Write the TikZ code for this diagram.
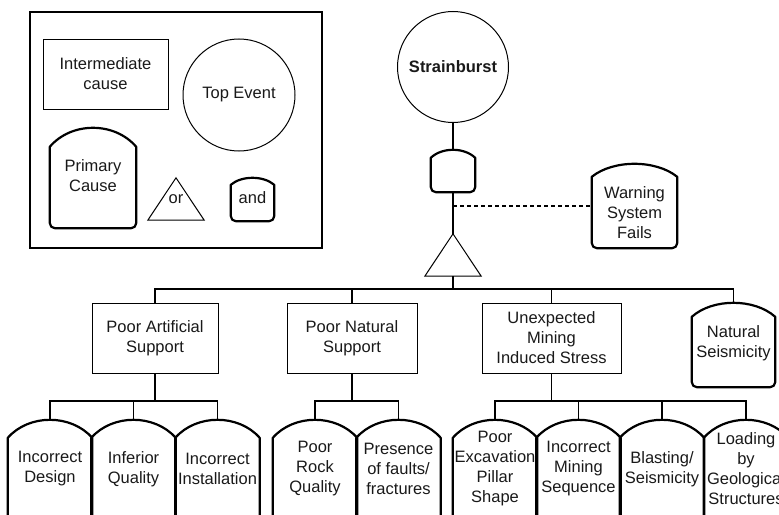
\documentclass[tikz,border=0pt]{standalone}
\usepackage{fontspec}
\setmainfont{Liberation Sans}
\usetikzlibrary{calc}
\begin{document}
\begin{tikzpicture}[x=1pt,y=-1pt,
  every node/.style={font=\fontsize{16.5}{20}\selectfont, align=center,
    inner sep=0pt, text=black!90},
  boxnode/.style n args={2}{draw, line width=1pt, minimum width=#1, minimum height=#2},
  tombnode/.style n args={2}{minimum width=#1, minimum height=#2},
  circ/.style={circle, draw, line width=1pt, minimum size=#1},
  tomb/.style={draw, line width=2.2pt, line join=round},
  thinline/.style={line width=1pt, line join=miter},
  link/.style={line width=1.4pt}]
\useasboundingbox (0,0) rectangle (779,514);

% ---------- key ----------
\node[boxnode={292pt}{236pt}, line width=1.3pt] (legend) at (176,130) {};
\node[boxnode={125pt}{70pt}] (lint) at (105.5,74) {Intermediate\\cause};
\node[circ=112pt] (ltop) at (239,95) {Top Event};
\node[tombnode={86pt}{96pt}] (lprim) at (93,176) {Primary\\Cause};
\node[tombnode={56pt}{42pt}] (lor) at (176,199) {or};
\node[tombnode={43pt}{40pt}] (land) at (252.5,198) {and};

% ---------- top of the tree ----------
\node[circ=111pt, font=\fontsize{16.5}{20}\selectfont\bfseries] (sb) at (453,67) {Strainburst};
\node[tombnode={44pt}{42pt}] (gate) at (453,171) {};
\node[tombnode={56pt}{42pt}] (tri) at (453,255) {};
\node[tombnode={85pt}{98pt}] (warn) at (634.5,213) {Warning\\System\\Fails};
\coordinate (j) at (453,206);
\coordinate (lv2) at (0,289);
\coordinate (lv3) at (0,401);

% ---------- second level ----------
\node[boxnode={126pt}{70pt}] (pas) at (155,338) {Poor Artificial\\Support};
\node[boxnode={130pt}{70pt}] (pns) at (352,338) {Poor Natural\\Support};
\node[boxnode={139pt}{70pt}] (umis) at (551.5,338) {Unexpected\\Mining\\Induced Stress};
\node[tombnode={83pt}{80pt}] (ns) at (733.5,343) {Natural\\Seismicity};

% ---------- basic causes ----------
\foreach \nd/\xc/\tx in {c11/50/{Incorrect\\Design}, c12/133.5/{Inferior\\Quality},
    c13/217.5/{Incorrect\\Installation}, c21/315/{Poor\\Rock\\Quality},
    c22/398.5/{Presence\\of faults/\\fractures}, c31/495/{Poor\\Excavation\\Pillar\\Shape},
    c32/578.5/{Incorrect\\Mining\\Sequence}, c33/662/{Blasting/\\Seismicity},
    c34/746/{Loading\\by\\Geological\\Structures}}
  \node[tombnode={84pt}{98pt}] (\nd) at (\xc,469) {\tx};

% ---------- primary-cause outlines: arched top, rounded foot ----------
\foreach \nd/\sg/\bo in {lprim/19/4, land/7/3, gate/8/0, warn/13/-14, ns/14/4,
    c11/18/30, c12/18/30, c13/18/30, c21/18/30, c22/18/30,
    c31/18/30, c32/18/30, c33/18/30, c34/18/30}
  \draw[tomb] let \p1=(\nd.south west), \p2=(\nd.north east) in
    ({\x1},{\y2-\sg*1pt})
    .. controls ({\x1+0.25*(\x2-\x1)},{\y2+\sg/3*1pt})
            and ({\x2-0.25*(\x2-\x1)},{\y2+\sg/3*1pt}) ..
    ({\x2},{\y2-\sg*1pt})
    -- ({\x2},{\y1-\bo*1pt+5pt}) arc[start angle=0, end angle=-90, radius=5pt]
    -- ({\x1+5pt},{\y1-\bo*1pt}) arc[start angle=270, end angle=180, radius=5pt]
    -- cycle;

% ---------- or gates ----------
\draw[thinline] (lor.north) -- (lor.south east) -- (lor.south west) -- cycle;
\draw[thinline] (tri.north) -- (tri.south east) -- (tri.south west) -- cycle;

% ---------- connectors ----------
\draw[link] (sb.south) -- (gate.north);
\draw[link] (gate.south) -- (tri.north);
\draw[link, dashed, dash pattern=on 4pt off 3pt, line width=1.2pt] (j) -- (j -| warn.west);
\draw[link] (tri.south) -- (tri.south |- lv2);
\draw[link] (pas.north) |- (ns.north |- lv2) -- (ns.north);
\draw[link] (pns.north) -- (pns.north |- lv2);
\draw[link] (umis.north) -- (umis.north |- lv2);

\draw[link] (pas.south) -- (pas.south |- lv3);
\draw[link] (c11.north) |- (c13.north |- lv3) -- (c13.north);
\draw[link] (c12.north) -- (c12.north |- lv3);

\draw[link] (pns.south) -- (pns.south |- lv3);
\draw[link] (c21.north) |- (c22.north |- lv3) -- (c22.north);

\draw[link] (umis.south) -- (umis.south |- lv3);
\draw[link] (c31.north) |- (c34.north |- lv3) -- (c34.north);
\draw[link] (c32.north) -- (c32.north |- lv3);
\draw[link] (c33.north) -- (c33.north |- lv3);
\end{tikzpicture}
\end{document}
